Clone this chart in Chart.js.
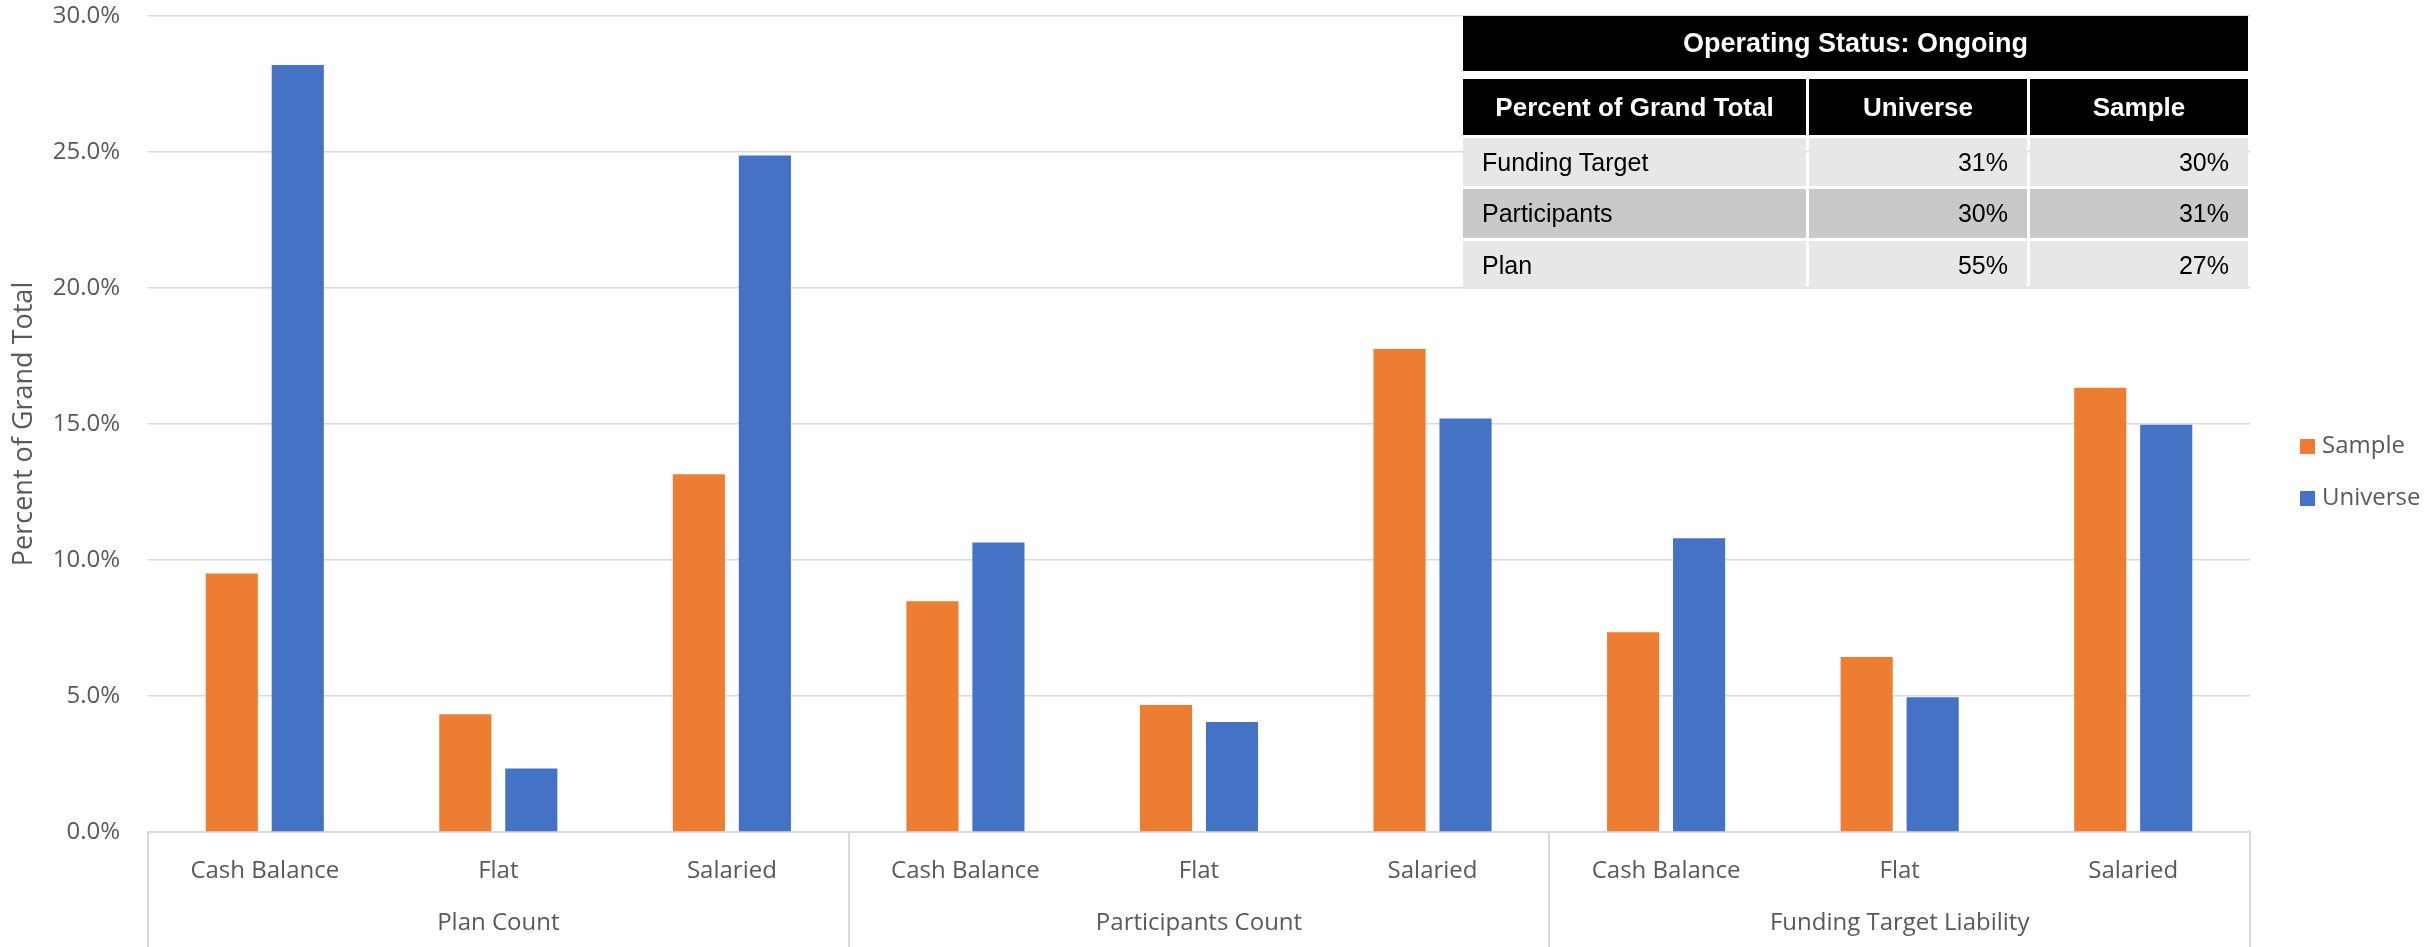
<!DOCTYPE html>
<html>
<head>
<meta charset="utf-8">
<script src="https://cdn.jsdelivr.net/npm/chart.js@4"></script>
<style>
  body { margin: 0; background: #fff; }
  #wrap { position: relative; width: 2425px; height: 947px; }
  #legend { position: absolute; left: 2300px; top: 428px; font-family: "Open Sans", sans-serif; font-size: 24px; color: #595959; white-space: nowrap; }
  #legend div { height: 52px; line-height: 32px; }
  #legend span.box { display: inline-block; width: 15px; height: 15px; margin-right: 7px; vertical-align: -1px; }
  #tbl { position: absolute; left: 1463px; top: 16px; width: 785px; font-family: "Liberation Sans", Arial, sans-serif; color: #000; }
  #tbl .title { background: #000; color: #fff; font-weight: bold; font-size: 27px; height: 55px; line-height: 55px; text-align: center; }
  #tbl .grid { display: grid; grid-template-columns: 343px 218px 218px; grid-template-rows: 56px 48px 49px 48px; gap: 3px; margin-top: 8px; }
  #tbl .grid div { display: flex; align-items: center; font-size: 25px; }
  #tbl .grid div.head { background: #000; color: #fff; font-weight: bold; font-size: 26px; justify-content: center; }
  #tbl .grid div.lab { padding-left: 19px; }
  #tbl .grid div.num { justify-content: flex-end; padding-right: 19px; }
</style>
</head>
<body>
<div id="wrap">
  <canvas id="chart" width="2425" height="947"></canvas>
  <div id="legend"></div>
  <div id="tbl"></div>
</div>
<script>
// data
const groups = ['Plan Count', 'Participants Count', 'Funding Target Liability'];
const types = ['Cash Balance', 'Flat', 'Salaried'];
const sample = [9.5, 4.33, 13.15, 8.48, 4.67, 17.76, 7.34, 6.43, 16.33];
const universe = [28.2, 2.33, 24.87, 10.64, 4.04, 15.2, 10.8, 4.95, 14.97];
const yTicks = [0, 5, 10, 15, 20, 25, 30];

// tabel kecil di pojok kanan atas
const tableTitle = 'Operating Status: Ongoing';
const tableHead = ['Percent of Grand Total', 'Universe', 'Sample'];
const tableRows = ['Funding Target', 'Participants', 'Plan'];
const tableUniverse = ['31%', '30%', '55%'];
const tableSample = ['30%', '31%', '27%'];

const labels = [];
groups.forEach(function() { types.forEach(function(t) { labels.push(t); }); });

const orange = '#ED7D31';
const blue = '#4472C4';
const gridColor = '#D9D9D9';
const textColor = '#595959';

// garis pemisah antar grup di bawah sumbu x
const groupLines = {
  id: 'groupLines',
  afterDraw(chart) {
    const x = chart.scales.x;
    const ctx = chart.ctx;
    const step = x.width / labels.length;
    ctx.save();
    ctx.strokeStyle = gridColor;
    ctx.lineWidth = 2;
    for (let i = 0; i <= groups.length; i++) {
      const px = Math.round(x.left + step * types.length * i);
      ctx.beginPath();
      ctx.moveTo(px, chart.chartArea.bottom);
      ctx.lineTo(px, chart.height);
      ctx.stroke();
    }
    ctx.restore();
  }
};

const chart = new Chart(document.getElementById('chart'), {
  type: 'bar',
  data: {
    labels: labels,
    datasets: [
      { label: 'Sample', data: sample, backgroundColor: orange, categoryPercentage: 0.565, barPercentage: 0.79 },
      { label: 'Universe', data: universe, backgroundColor: blue, categoryPercentage: 0.565, barPercentage: 0.79 }
    ]
  },
  options: {
    responsive: false,
    animation: false,
    layout: { padding: { top: 16, right: 175, left: 0, bottom: 0 } },
    plugins: {
      legend: { display: false },
      tooltip: { enabled: false }
    },
    scales: {
      x: {
        grid: { display: false, drawTicks: false },
        border: { display: true, color: gridColor, width: 2 },
        ticks: { color: textColor, font: { family: 'Open Sans', size: 24 }, padding: 25, maxRotation: 0, autoSkip: false },
        afterFit: function(s) { s.height = 70; s.paddingLeft = 0; s.paddingRight = 0; }
      },
      group: {
        type: 'category',
        position: 'bottom',
        labels: groups,
        grid: { display: false, drawTicks: false },
        border: { display: false },
        ticks: { color: textColor, font: { family: 'Open Sans', size: 24 }, padding: 7, maxRotation: 0 },
        afterFit: function(s) { s.height = 45; s.paddingLeft = 0; s.paddingRight = 0; }
      },
      y: {
        min: 0,
        max: 30,
        afterBuildTicks: function(s) { s.ticks = yTicks.map(function(v) { return { value: v }; }); },
        grid: { color: gridColor, lineWidth: 1.5, drawTicks: false },
        border: { display: false },
        ticks: {
          color: textColor,
          font: { family: 'Open Sans', size: 24 },
          padding: 28,
          callback: function(v) { return v.toFixed(1) + '%'; }
        },
        title: { display: true, text: 'Percent of Grand Total', color: textColor, font: { family: 'Open Sans', size: 27 }, padding: { top: 8, bottom: 0 } },
        afterFit: function(s) { s.width = 148; s.paddingTop = 0; s.paddingBottom = 0; }
      }
    }
  },
  plugins: [groupLines]
});

// legend
const legend = document.getElementById('legend');
chart.data.datasets.forEach(function(ds) {
  const row = document.createElement('div');
  row.innerHTML = '<span class="box" style="background:' + ds.backgroundColor + '"></span>' + ds.label;
  legend.appendChild(row);
});

// tabel
let html = '<div class="title">' + tableTitle + '</div><div class="grid">';
tableHead.forEach(function(h) { html += '<div class="head">' + h + '</div>'; });
tableRows.forEach(function(r, i) {
  const bg = i === 1 ? '#C9C9C9' : '#E7E7E7';
  html += '<div class="lab" style="background:' + bg + '">' + r + '</div>';
  html += '<div class="num" style="background:' + bg + '">' + tableUniverse[i] + '</div>';
  html += '<div class="num" style="background:' + bg + '">' + tableSample[i] + '</div>';
});
html += '</div>';
document.getElementById('tbl').innerHTML = html;
</script>
</body>
</html>
